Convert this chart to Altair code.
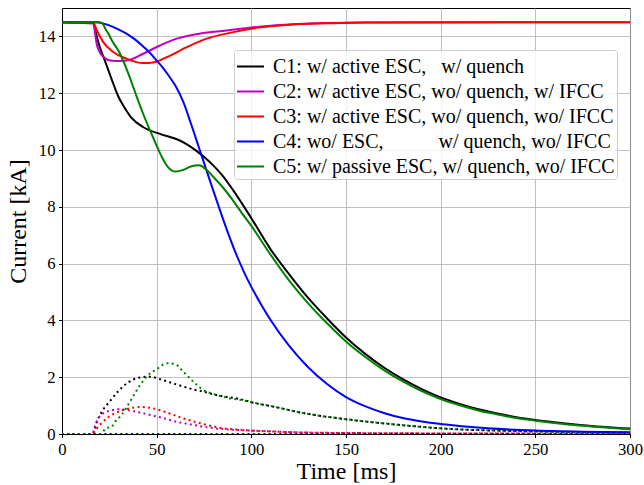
import altair as alt
import pandas as pd

# ---- data (time in ms, current in kA) ----
cases = [
    "C1: w/ active ESC,\u00a0\u00a0\u00a0w/ quench",
    "C2: w/ active ESC, wo/ quench, w/ IFCC",
    "C3: w/ active ESC, wo/ quench, wo/ IFCC",
    "C4: wo/ ESC,\u00a0\u00a0\u00a0\u00a0\u00a0\u00a0\u00a0\u00a0\u00a0\u00a0\u00a0w/ quench, wo/ IFCC",
    "C5: w/ passive ESC, w/ quench, wo/ IFCC",
]
colors = ["#000000", "#bf00bf", "#ff0000", "#0000ff", "#008000"]

# solid curves (main current)
t_c1 = [0, 16.5, 18, 19.7, 21.8, 24, 27, 30, 32.5, 36.5, 43, 52, 61, 66, 71, 76, 80, 85, 90, 95, 100, 110, 120, 130, 140, 150, 160, 170, 180, 190, 200, 210, 220, 230, 240, 250, 260, 275, 300]
i_c1 = [14.5, 14.48, 14.1, 13.68, 13.3, 12.9, 12.35, 11.85, 11.55, 11.15, 10.8, 10.56, 10.37, 10.2, 9.97, 9.7, 9.45, 9.08, 8.62, 8.12, 7.6, 6.52, 5.62, 4.79, 4.07, 3.4, 2.83, 2.34, 1.93, 1.58, 1.29, 1.06, 0.87, 0.72, 0.59, 0.49, 0.41, 0.31, 0.19]

t_c2 = [0, 16.5, 17.5, 18.3, 19.5, 21, 23, 25.4, 30.6, 35.9, 42.9, 51.8, 60.6, 69.4, 87, 102.8, 120, 140, 160, 300]
i_c2 = [14.5, 14.45, 14.1, 13.74, 13.5, 13.33, 13.22, 13.15, 13.13, 13.18, 13.39, 13.68, 13.92, 14.06, 14.21, 14.33, 14.42, 14.47, 14.49, 14.5]

t_c3 = [0, 16.5, 18.5, 21.8, 27.1, 34.2, 42.9, 48.2, 55.3, 65.9, 76.4, 90.5, 102.8, 120, 140, 160, 300]
i_c3 = [14.5, 14.47, 14.2, 13.8, 13.45, 13.21, 13.06, 13.08, 13.27, 13.62, 13.92, 14.15, 14.3, 14.41, 14.46, 14.49, 14.5]

t_c4 = [0, 18, 22, 26, 30, 34, 38, 42, 46, 50, 53, 56, 60, 64, 68, 72, 76, 80, 84, 88, 92, 96, 100, 105, 110, 120, 130, 140, 150, 160, 170, 180, 190, 200, 225, 250, 275, 300]
i_c4 = [14.5, 14.5, 14.45, 14.36, 14.24, 14.1, 13.92, 13.7, 13.45, 13.15, 12.92, 12.65, 12.25, 11.7, 10.95, 10.15, 9.35, 8.55, 7.77, 7.02, 6.33, 5.72, 5.18, 4.58, 4.03, 3.1, 2.35, 1.76, 1.3, 0.98, 0.74, 0.56, 0.44, 0.35, 0.2, 0.12, 0.08, 0.06]

t_c5 = [0, 20, 21.8, 23, 24.5, 26, 30.6, 35, 39.5, 43, 46.5, 50, 53, 56, 60, 64, 68, 72.5, 76, 80, 85, 90, 95, 100, 110, 120, 130, 140, 150, 160, 170, 180, 190, 200, 210, 220, 230, 240, 250, 260, 275, 300]
i_c5 = [14.5, 14.5, 14.42, 14.25, 14.1, 13.9, 13.4, 12.7, 11.87, 11.25, 10.69, 10.15, 9.72, 9.4, 9.24, 9.3, 9.42, 9.46, 9.32, 9.05, 8.68, 8.25, 7.78, 7.33, 6.33, 5.4, 4.6, 3.9, 3.26, 2.72, 2.25, 1.85, 1.51, 1.23, 1.01, 0.83, 0.69, 0.56, 0.47, 0.39, 0.29, 0.17]

# dotted curves (secondary current)
td_c1 = [0, 16.5, 18, 21, 25.4, 29.7, 35, 41.2, 46.5, 51.8, 58.8, 69.4, 74.6, 81.7, 95.8, 100, 113.4, 125.7, 150, 178.5, 200, 250, 300]
id_c1 = [0, 0, 0.35, 0.78, 1.16, 1.51, 1.82, 1.99, 2.02, 1.93, 1.78, 1.57, 1.49, 1.37, 1.2, 1.12, 0.94, 0.76, 0.52, 0.32, 0.2, 0.09, 0.05]

td_c2 = [0, 16, 17.5, 19.2, 21.8, 25.4, 29.7, 34.2, 39.5, 44.7, 51.8, 60.6, 69.4, 78.2, 90.5, 108, 130, 160, 200, 300]
id_c2 = [0, 0, 0.3, 0.55, 0.73, 0.82, 0.87, 0.84, 0.78, 0.7, 0.59, 0.43, 0.32, 0.22, 0.15, 0.1, 0.05, 0.03, 0.02, 0.01]

td_c3 = [0, 16, 17.5, 20, 23.6, 28, 34.2, 42.1, 48.2, 55.3, 64.1, 72.9, 83.5, 95.8, 110, 130, 160, 200, 300]
id_c3 = [0, 0, 0.12, 0.32, 0.55, 0.73, 0.88, 0.95, 0.9, 0.76, 0.55, 0.38, 0.22, 0.14, 0.09, 0.05, 0.03, 0.02, 0.01]

td_c4 = [0, 300]
id_c4 = [0, 0]

td_c5 = [0, 20, 21.5, 23.6, 26, 28, 31.5, 35.9, 41.2, 45.6, 50, 55.3, 59.7, 64.1, 69.4, 74.6, 79.9, 87, 95.8, 100, 113.4, 125.7, 150, 178.5, 200, 250, 300]
id_c5 = [0, 0, 0.08, 0.22, 0.24, 0.43, 0.67, 1.14, 1.72, 2.08, 2.28, 2.49, 2.46, 2.19, 1.84, 1.55, 1.41, 1.28, 1.18, 1.12, 0.94, 0.76, 0.52, 0.32, 0.2, 0.09, 0.05]

x_ticks = [0, 50, 100, 150, 200, 250, 300]
y_ticks = [0, 2, 4, 6, 8, 10, 12, 14]

solid = [(t_c1, i_c1), (t_c2, i_c2), (t_c3, i_c3), (t_c4, i_c4), (t_c5, i_c5)]
dotted = [(td_c1, id_c1), (td_c2, id_c2), (td_c3, id_c3), (td_c4, id_c4), (td_c5, id_c5)]

rows_s, rows_d = [], []
for k, (name, col) in enumerate(zip(cases, colors)):
    for t, v in zip(*solid[k]):
        rows_s.append({"t": t, "I": v, "case": name, "key": f"c{k+1}"})
    for t, v in zip(*dotted[k]):
        rows_d.append({"t": t, "I": v, "hex": col, "key": f"c{k+1}"})
df_s = pd.DataFrame(rows_s)
df_d = pd.DataFrame(rows_d)

FONT = "Liberation Serif"

xenc = alt.X("t:Q", scale=alt.Scale(domain=[0, 300], nice=False, zero=False),
             axis=alt.Axis(values=x_ticks, title="Time [ms]", format="d", labelFlush=False))
yenc = alt.Y("I:Q", scale=alt.Scale(domain=[0, 15], nice=False),
             axis=alt.Axis(values=y_ticks, title="Current [kA]", format="d", labelFlush=False))

dots = alt.Chart(df_d).mark_line(
    strokeWidth=2, strokeDash=[2, 3.3], interpolate="monotone", clip=True
).encode(
    x=xenc, y=yenc,
    color=alt.Color("hex:N", scale=None),
    detail="key:N",
)

lines = alt.Chart(df_s).mark_line(
    strokeWidth=2, interpolate="monotone", clip=True
).encode(
    x=xenc, y=yenc,
    color=alt.Color(
        "case:N",
        scale=alt.Scale(domain=cases, range=colors),
        sort=cases,
        legend=alt.Legend(
            title=None, orient="none", legendX=172, legendY=42,
            symbolType="M-1,0H1", symbolSize=729, symbolStrokeWidth=2,
            labelFont=FONT, labelFontSize=20, labelColor="black",
            labelLimit=500, labelOffset=8, rowPadding=0,
            padding=2, fillColor="rgba(255,255,255,0.8)",
            strokeColor="#cccccc", cornerRadius=3,
        ),
    ),
    detail="key:N",
)

chart = alt.layer(dots, lines).properties(
    width=568, height=426,
    autosize=alt.AutoSizeParams(type="none"),
    padding={"left": 62, "top": 8, "right": 14, "bottom": 51},
).configure_view(
    stroke="black", strokeWidth=1
).configure_axis(
    labelFont=FONT, titleFont=FONT, labelFontSize=16.7, titleFontSize=24,
    titleFontWeight="normal", labelColor="black", titleColor="black",
    domainColor="black", domainWidth=1, tickColor="black", tickSize=3.5,
    tickWidth=1, labelPadding=3.5, gridColor="#b0b0b0", gridWidth=0.8,
    grid=True,
).configure_axisX(
    titlePadding=2
).configure_axisY(
    titlePadding=8
)

chart.save("out.html", embed_options={"renderer": "svg", "actions": False})
